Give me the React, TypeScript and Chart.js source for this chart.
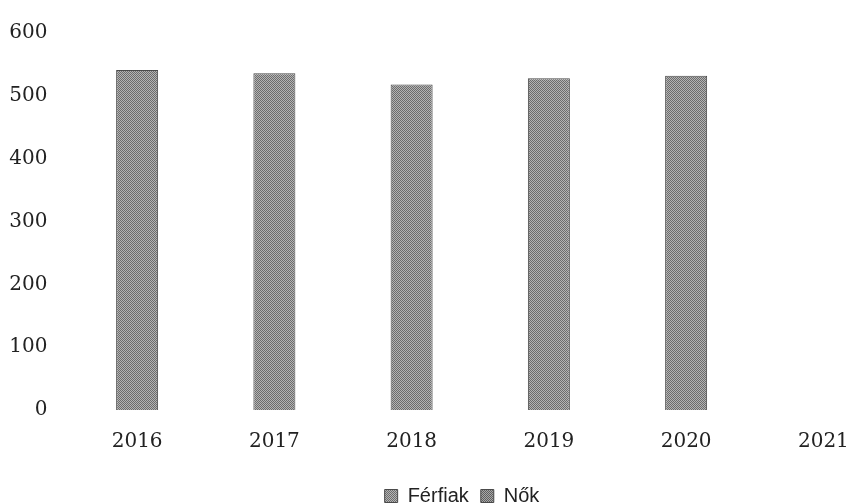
import React, { useEffect, useRef } from "react";
import { Chart, registerables } from "chart.js";

Chart.register(...registerables);

const years = ["2016", "2017", "2018", "2019", "2020", "2021"];
const ferfiak = [541, 536, 518, 528, 532, null];
const nok = [null, null, null, null, null, null];
const yTicks = [0, 100, 200, 300, 400, 500, 600];

function makePattern(dark: string, light: string) {
  const c = document.createElement("canvas");
  c.width = 4;
  c.height = 4;
  const ctx = c.getContext("2d")!;
  ctx.fillStyle = light;
  ctx.fillRect(0, 0, 4, 4);
  ctx.fillStyle = dark;
  for (let y = 0; y < 4; y++) {
    for (let x = 0; x < 4; x++) {
      if ((x + y) % 2 === 0) ctx.fillRect(x, y, 1, 1);
    }
  }
  return ctx.createPattern(c, "repeat")!;
}

const legendShift = {
  id: "legendShift",
  afterLayout(chart: any) {
    const lg = chart.legend;
    if (lg) {
      lg.left += 16;
      lg.right += 16;
    }
  },
};

export default function App() {
  const ref = useRef<HTMLCanvasElement | null>(null);

  useEffect(() => {
    if (!ref.current) return;
    const p1 = makePattern("#6c6c6c", "#b4b4b4");
    const p2 = makePattern("#5e5e5e", "#a8a8a8");
    const chart = new Chart(ref.current, {
      type: "bar",
      data: {
        labels: years,
        datasets: [
          {
            label: "Férfiak",
            data: ferfiak,
            backgroundColor: p1,
            borderColor: "#4a4a4a",
            borderWidth: 1,
            categoryPercentage: 1,
            barPercentage: 0.306,
          },
          {
            label: "Nők",
            data: nok,
            backgroundColor: p2,
            borderColor: "#4a4a4a",
            borderWidth: 1,
            categoryPercentage: 1,
            barPercentage: 0.306,
          },
        ],
      },
      plugins: [legendShift],
      options: {
        animation: false,
        responsive: true,
        maintainAspectRatio: false,
        color: "#222",
        layout: { padding: { top: 24, right: 32, left: 0, bottom: 0 } },
        plugins: {
          tooltip: { enabled: false },
          legend: {
            position: "bottom",
            labels: {
              boxWidth: 13,
              boxHeight: 13,
              padding: 12,
              color: "#222",
              font: { family: "'Liberation Sans'", size: 20 },
            },
          },
        },
        scales: {
          x: {
            stacked: true,
            grid: { display: false, drawTicks: false },
            border: { display: false },
            ticks: {
              color: "#222",
              padding: 20,
              maxRotation: 0,
              autoSkip: false,
              font: { family: "'DejaVu Serif'", size: 20 },
            },
            afterFit: (s: any) => {
              s.height = 64;
            },
          },
          y: {
            stacked: true,
            min: 0,
            max: 600,
            grid: { display: false, drawTicks: false },
            border: { display: false },
            afterBuildTicks: (s: any) => {
              s.ticks = yTicks.map((v) => ({ value: v }));
            },
            ticks: {
              color: "#222",
              padding: 21,
              font: { family: "'DejaVu Serif'", size: 20 },
            },
            afterFit: (s: any) => {
              s.width = 68.5;
            },
          },
        },
      },
    });
    return () => chart.destroy();
  }, []);

  return (
    <div
      style={{
        position: "absolute",
        left: 0,
        top: 0,
        width: 849,
        height: 503,
        overflow: "hidden",
        background: "#fff",
      }}
    >
      <div style={{ position: "relative", width: 924, height: 516 }}>
        <canvas ref={ref} />
      </div>
    </div>
  );
}
